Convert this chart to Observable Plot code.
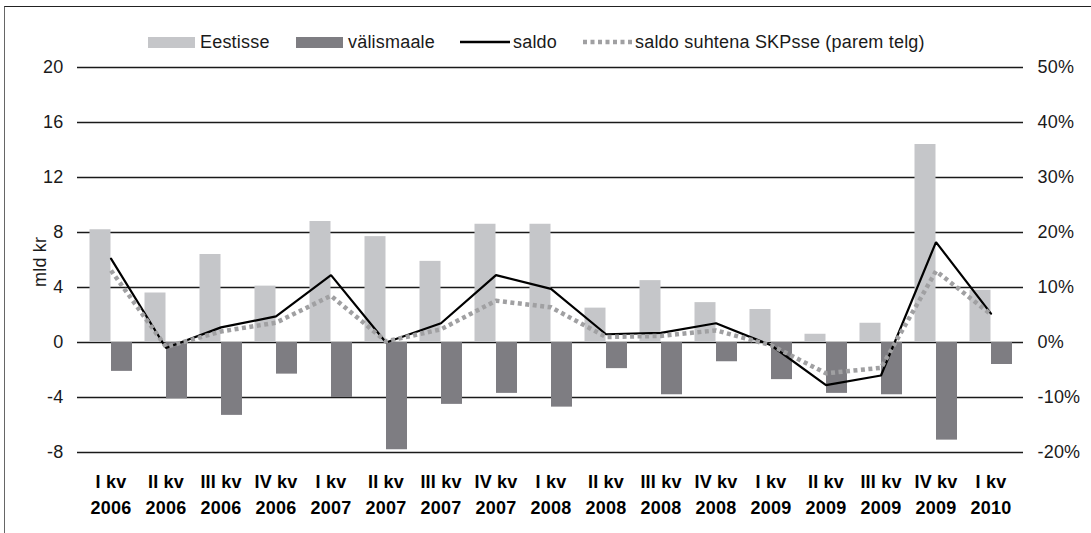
<!DOCTYPE html>
<html>
<head>
<meta charset="utf-8">
<script src="https://cdn.jsdelivr.net/npm/d3@7"></script>
<script src="https://cdn.jsdelivr.net/npm/@observablehq/plot@0.6"></script>
<style>
  body { margin: 0; background: #fff; font-family: "Liberation Sans", Arial, sans-serif; }
  #wrap { position: relative; width: 1091px; height: 533px; overflow: hidden; }
  #frame { position: absolute; left: 4px; top: 6px; width: 1100px; height: 540px;
           border-top: 1.5px solid #222; border-left: 1.5px solid #666; }
  #legend { position: absolute; top: 0; left: 0; font-size: 18px; letter-spacing: 0.2px; color: #1a1a1a; white-space: nowrap; }
  .item { position: absolute; top: 31px; display: flex; align-items: center; height: 22px; }
  .sw { width: 47px; height: 11px; margin-right: 5px; }
  #chart { position: absolute; left: 0; top: 0; }
</style>
</head>
<body>
<div id="wrap">
  <div id="frame"></div>
  <div id="chart"></div>
  <div id="legend"></div>
</div>
<script>
const quarters = ["I kv","II kv","III kv","IV kv","I kv","II kv","III kv","IV kv","I kv","II kv","III kv","IV kv","I kv","II kv","III kv","IV kv","I kv"];
const years = ["2006","2006","2006","2006","2007","2007","2007","2007","2008","2008","2008","2008","2009","2009","2009","2009","2010"];
const eestisse = [8.2,3.6,6.4,4.1,8.8,7.7,5.9,8.6,8.6,2.5,4.5,2.9,2.4,0.6,1.4,14.4,3.8];
const valismaale = [-2.1,-4.1,-5.3,-2.3,-4.0,-7.8,-4.5,-3.7,-4.7,-1.9,-3.8,-1.4,-2.7,-3.7,-3.8,-7.1,-1.6];
const saldo = [6.1,-0.4,1.1,1.9,4.9,0.0,1.4,4.9,3.9,0.6,0.7,1.4,-0.2,-3.1,-2.4,7.3,2.1];
const saldoSKP = [13.1,-0.8,2.0,3.6,8.5,0.2,2.4,7.6,6.4,1.0,1.2,2.2,-0.5,-5.6,-4.6,13.0,5.1];
const leftTicks = [-8,-4,0,4,8,12,16,20];
const rightTicks = [-20,-10,0,10,20,30,40,50];
const seriesNames = ["Eestisse","välismaale","saldo","saldo suhtena SKPsse (parem telg)"];
const yLabel = "mld kr";

const colors = {eestisse:"#c5c6c9", valismaale:"#7e7d82", saldo:"#000", skp:"#a0a0a2"};
const ratio = 20 / 50; // left units per right-axis percent

const labels = quarters.map((q, i) => q + "\n" + years[i]);
const rows = labels.map((label, i) => ({
  label, eestisse: eestisse[i], valismaale: valismaale[i], saldo: saldo[i], skp: saldoSKP[i]
}));
const pctMap = new Map(rightTicks.map(p => [p * ratio, p + "%"]));

const chart = Plot.plot({
  width: 1091, height: 533,
  marginLeft: 77, marginRight: 68, marginTop: 67, marginBottom: 81,
  style: {fontFamily: "'Liberation Sans', Arial, sans-serif", fontSize: "18px", letterSpacing: "0.2px", color: "#1a1a1a", background: "transparent"},
  x: {type: "band", domain: labels, padding: 0},
  y: {domain: [-8, 20]},
  marks: [
    Plot.gridY(leftTicks, {stroke: "#1a1a1a", strokeOpacity: 1, strokeWidth: 1.3}),
    Plot.barY(rows, {x: "label", y: "eestisse", fill: colors.eestisse, insetLeft: 6.5, insetRight: 27.5}),
    Plot.barY(rows, {x: "label", y: "valismaale", fill: colors.valismaale, insetLeft: 28, insetRight: 6}),
    Plot.lineY(rows, {x: "label", y: "saldo", stroke: colors.saldo, strokeWidth: 2.2, strokeLinejoin: "miter"}),
    Plot.lineY(rows, {x: "label", y: d => d.skp * ratio, stroke: colors.skp, strokeWidth: 4.5, strokeDasharray: "4,3.5", strokeLinecap: "butt"}),
    Plot.axisY(leftTicks, {anchor: "left", tickSize: 0, tickPadding: 14, label: null, tickFormat: d => String(d)}),
    Plot.axisY(rightTicks.map(p => p * ratio), {anchor: "right", tickSize: 0, tickPadding: 14, label: null, tickFormat: d => pctMap.get(d)}),
    Plot.axisX({tickSize: 0, tickPadding: 17, label: null, fontWeight: "bold", fill: "#000", lineHeight: 1.45}),
    Plot.text([yLabel], {frameAnchor: "left", rotate: -90, dx: -37, dy: 27, fontSize: 18, fill: "#1a1a1a"})
  ]
});
document.getElementById("chart").appendChild(chart);

// legend
const legend = document.getElementById("legend");
const lefts = [148, 296, 460, 583];
const swatches = [
  `<div class="sw" style="background:${colors.eestisse}"></div>`,
  `<div class="sw" style="background:${colors.valismaale}"></div>`,
  `<svg width="50" height="12" style="margin-right:3px"><line x1="0" x2="50" y1="6" y2="6" stroke="#000" stroke-width="2.5"/></svg>`,
  `<svg width="50" height="12" style="margin-right:2px"><line x1="0" x2="50" y1="6" y2="6" stroke="${colors.skp}" stroke-width="4.5" stroke-dasharray="4,3.5"/></svg>`
];
seriesNames.forEach((name, i) => {
  const d = document.createElement("div");
  d.className = "item";
  d.style.left = lefts[i] + "px";
  d.innerHTML = swatches[i] + `<span>${name}</span>`;
  legend.appendChild(d);
});
</script>
</body>
</html>
